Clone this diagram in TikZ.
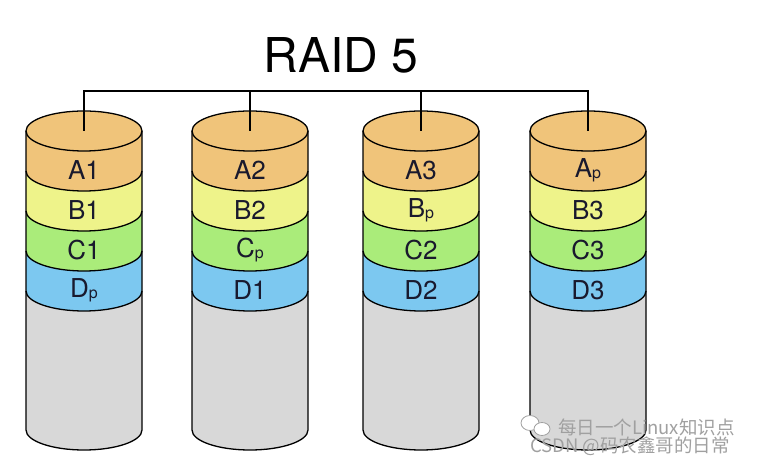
\documentclass[tikz,border=0pt]{standalone}
\usepackage{fontspec}
\setmainfont{TeX Gyre Heros}
\newfontfamily\cjk{Noto Sans CJK SC}

\definecolor{bandA}{RGB}{240,196,122}
\definecolor{bandB}{RGB}{238,243,138}
\definecolor{bandC}{RGB}{170,236,122}
\definecolor{bandD}{RGB}{124,200,240}
\definecolor{restgray}{RGB}{216,216,216}
\definecolor{labelink}{RGB}{25,25,45}
\definecolor{markgray}{RGB}{160,160,160}

% Paritaetsblock mit kleinem p
\newcommand{\subp}{\raisebox{-1pt}{\fontsize{16}{16}\selectfont p}}
\newcommand{\Ap}{A\subp}
\newcommand{\Bp}{B\subp}
\newcommand{\Cp}{C\subp}
\newcommand{\Dp}{D\subp}

\begin{document}
\begin{tikzpicture}[x=1pt, y=1pt,
    blocklabel/.style={font=\fontsize{26}{26}\selectfont, text=labelink},
    diskline/.style={line width=1.3pt, black},
    busline/.style={line width=1.6pt, black}]
    \useasboundingbox (0,0) rectangle (757,462);

    % Titel
    \node[font=\fontsize{48}{48}\selectfont] (title) at (341,407) {RAID 5};

    % Platten
    \foreach \cx/\la/\lb/\lc/\ld/\n in {84/A1/B1/C1/\Dp/1, 250/A2/B2/\Cp/D1/2, 421/A3/\Bp/C2/D2/3, 588/\Ap/B3/C3/D3/4} {
        % grauer Rest
        \fill[restgray] ({\cx-58},171) -- ({\cx-58},32) arc[start angle=180, end angle=360, x radius=58, y radius=20]
            -- ({\cx+58},171) arc[start angle=0, end angle=-180, x radius=58, y radius=20] -- cycle;
        % Bloecke A bis D
        \foreach \yt/\col in {331/bandA, 291/bandB, 251/bandC, 211/bandD}
            \fill[\col] ({\cx-58},\yt) -- ++(0,-40) arc[start angle=180, end angle=360, x radius=58, y radius=20]
                -- ++(0,40) arc[start angle=0, end angle=-180, x radius=58, y radius=20] -- cycle;
        % Deckel
        \filldraw[diskline, fill=bandA] (\cx,331) ellipse[x radius=58, y radius=20];
        % Umriss
        \draw[diskline] ({\cx-58},331) -- ({\cx-58},32) arc[start angle=180, end angle=360, x radius=58, y radius=20] -- ({\cx+58},331);
        \foreach \y in {291,251,211,171}
            \draw[diskline] ({\cx-58},\y) arc[start angle=180, end angle=360, x radius=58, y radius=20];

        % Beschriftung
        \node[blocklabel] (a\n) at (\cx,292) {\la};
        \node[blocklabel] (b\n) at (\cx,252) {\lb};
        \node[blocklabel] (c\n) at (\cx,212) {\lc};
        \node[blocklabel] (d\n) at (\cx,172) {\ld};

        \coordinate (top\n) at (\cx,331);
        \coordinate (bus\n) at (\cx,371);
    }

    % Verbindung
    \draw[busline] (top1) -- (bus1) -- (bus4) -- (top4);
    \draw[busline] (top2) -- (bus2);
    \draw[busline] (top3) -- (bus3);

    % Wasserzeichen
    \draw[markgray, line width=0.8pt, fill=white] (530,39) ellipse[x radius=9, y radius=7.5];
    \draw[markgray, line width=0.8pt, fill=white] (542,33) ellipse[x radius=8, y radius=6.5];
    \node[markgray, font=\cjk\fontsize{18.5}{18.5}\selectfont, anchor=west, inner sep=0pt] (mark1) at (558,35) {每日一个Linux知识点};
    \node[markgray, font=\cjk\fontsize{18.5}{18.5}\selectfont, anchor=west, inner sep=0pt] (mark2) at (530,16) {CSDN @码农鑫哥的日常};
\end{tikzpicture}
\end{document}
